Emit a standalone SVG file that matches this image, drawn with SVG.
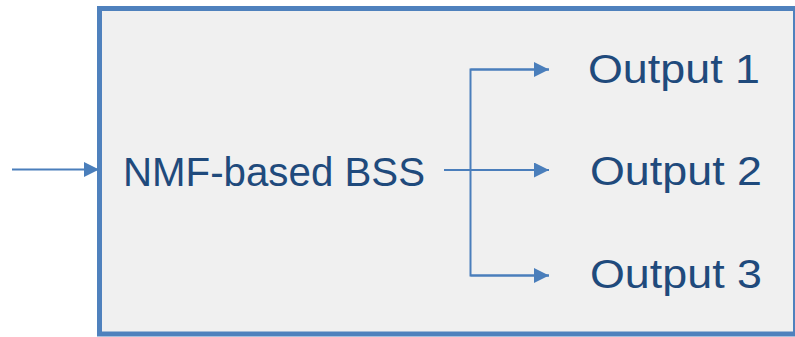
<svg xmlns="http://www.w3.org/2000/svg" width="795" height="337" viewBox="0 0 795 337">
<style>
.lbl{font-family:"Liberation Sans",Arial,sans-serif;font-size:41.5px;fill:#1F4A7C}
.con{stroke:#4A7EBB;stroke-width:2;fill:none}
</style>
<defs>
<marker id="ah" viewBox="0 0 15 15" refX="15" refY="7.5" markerWidth="15" markerHeight="15" markerUnits="userSpaceOnUse" orient="auto">
<path d="M0,0 L15,7.5 L0,15 Z" fill="#4A7EBB"/>
</marker>
</defs>
<rect width="795" height="337" fill="#FFFFFF"/>
<g id="box">
<rect x="99.5" y="8.5" width="696" height="325.5" fill="#F0F0F0" stroke="#4F81BD" stroke-width="5"/>
<text class="lbl" x="123" y="185.5" textLength="302" lengthAdjust="spacingAndGlyphs">NMF-based BSS</text>
</g>
<g id="out1"><text class="lbl" x="588" y="82.5" textLength="172" lengthAdjust="spacingAndGlyphs">Output 1</text></g>
<g id="out2"><text class="lbl" x="590" y="185" textLength="172" lengthAdjust="spacingAndGlyphs">Output 2</text></g>
<g id="out3"><text class="lbl" x="590" y="288" textLength="172" lengthAdjust="spacingAndGlyphs">Output 3</text></g>
<g id="connectors">
<line class="con" x1="12" y1="169.5" x2="99" y2="169.5" marker-end="url(#ah)"/>
<line class="con" x1="444" y1="170" x2="549" y2="170" marker-end="url(#ah)"/>
<polyline class="con" points="549,69.5 470.5,69.5 470.5,275.5 549,275.5"/>
<line class="con" x1="470.5" y1="69.5" x2="549" y2="69.5" marker-end="url(#ah)"/>
<line class="con" x1="470.5" y1="275.5" x2="549" y2="275.5" marker-end="url(#ah)"/>
</g>
</svg>
